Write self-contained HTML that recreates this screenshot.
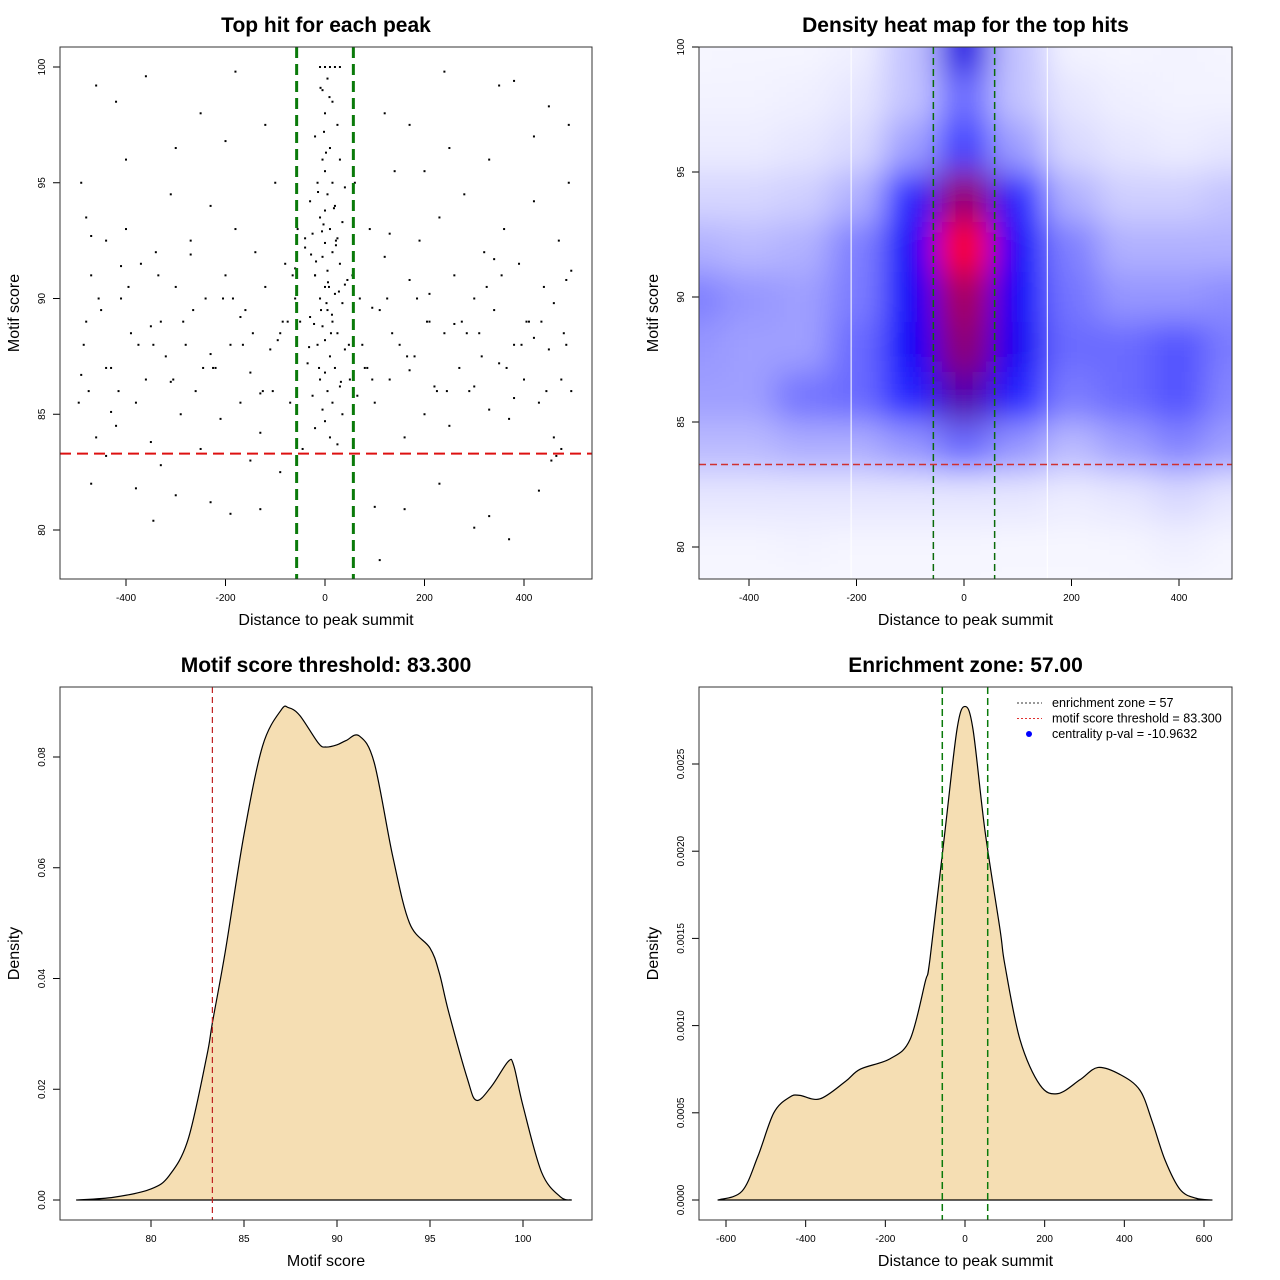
<!DOCTYPE html>
<html><head><meta charset="utf-8"><style>
html,body{margin:0;padding:0;background:#fff}
svg{display:block;font-family:"Liberation Sans",sans-serif}
</style></head><body>
<svg id="root" width="1280" height="1280" viewBox="0 0 1280 1280" xmlns="http://www.w3.org/2000/svg">
<defs>
<clipPath id="hmclip"><rect x="699" y="47" width="533" height="532"/></clipPath>
<filter id="blur" x="-20%" y="-20%" width="140%" height="140%"><feGaussianBlur stdDeviation="16"/></filter>
</defs>
</svg>
<script>
// ---- Panel 1 scatter data ----
const scatterX=[0,10,-10,20,30,5,-5,15,0,25,-20,10,-5,30,0,15,-15,40,5,-30,20,0,-10,35,10,-25,25,0,-40,15,-5,30,5,-20,45,0,20,-10,35,5,-30,15,-5,25,0,-15,40,10,-35,20,0,-10,30,5,-25,15,-5,35,0,-20,10,25,-45,50,-50,55,-55,60,-60,48,
-490,-480,-470,-485,-475,-460,-495,-450,-440,-430,-420,-410,-400,-390,-380,-370,-360,-350,-345,-340,-330,-320,-310,-300,-290,-280,-270,-260,-250,-240,-230,-220,-210,-200,-190,-180,-170,-160,-150,-140,-130,-120,-110,-100,-90,-80,-70,-460,-420,-360,-250,-180,-120,-400,-300,-200,-470,-380,-300,-230,-190,-130,-90,-440,-330,-150,
70,80,90,100,110,120,130,140,150,160,170,180,190,200,210,220,230,240,250,260,270,280,290,300,310,320,330,340,350,360,370,380,390,400,410,420,430,440,450,460,470,480,490,495,485,475,465,120,170,240,350,380,420,450,490,100,160,230,300,330,370,430,110,455,250,200,330,
-480,-440,-395,-345,-305,-265,-225,-185,-145,-105,-75,-65,-455,-415,-375,-335,-285,-245,-205,-165,-125,-85,75,95,125,165,205,245,285,325,365,405,445,485,85,135,185,225,275,315,355,395,435,475,-20,-8,8,22,-12,12,-3,3,
-18,-6,6,18,-28,28,-14,14,-2,2,-22,22,-32,32,-9,9,-490,-470,-430,-410,-350,-310,-270,-230,-170,-130,-95,-60,-40,40,65,95,130,170,210,260,300,340,380,420,460,495];
const scatterY=[100,100,100,100,100,99.5,99,98.5,98,97.5,97,96.5,96,96,95.5,95,95,94.8,94.5,94.2,94,93.8,93.5,93.3,93,92.8,92.6,92.4,92.2,92,91.8,91.5,91.2,91,90.8,90.5,90.2,90,89.8,89.5,89.2,89,88.8,88.5,88.2,88,87.8,87.5,87.2,87,86.8,86.5,86.2,86,85.8,85.5,85.2,85,84.7,84.4,84,83.7,83.5,86.5,89,91,93,95,90,88,
95,93.5,91,88,86,84,85.5,89.5,92.5,87,84.5,90,93,88.5,85.5,91.5,86.5,83.8,80.4,92,89,87.5,94.5,90.5,85,88,92.5,86,83.5,90,94,87,84.8,91,88,93,85.5,89.5,86.8,92,84.2,90.5,87.8,95,88.5,91.5,85.5,99.2,98.5,99.6,98,99.8,97.5,96,96.5,96.8,82,81.8,81.5,81.2,80.7,80.9,82.5,83.2,82.8,83,
90,87,93,85.5,89.5,91.8,86.5,95.5,88,84,90.8,87.5,92.5,85,89,86.2,93.5,88.5,84.5,91,87,94.5,86,90,88.5,92,85.2,89.5,87.2,93,84.8,88,91.5,86.5,89,94.2,85.5,90.5,87.8,84,92.5,88.5,95,86,90.8,83.5,83.2,98,97.5,99.8,99.2,99.4,97,98.3,97.5,81,80.9,82,80.1,80.6,79.6,81.7,78.7,83,96.5,95.5,96,
89,87,90.5,88,86.5,89.5,87,90,88.5,86,89,91,90,86,88,91,89,87,90,88,86,89,88,86.5,90,87.5,89,86,88.5,90.5,87,89,86,88,87,88.5,90,86,89,87.5,91,88,89,86.5,91,89.5,90.5,92.5,87,88.5,93.2,89.8,
91.6,92.9,90.7,93.9,91.9,90.3,94.6,89.3,97.2,96.3,88.9,92.3,87.9,86.4,99.1,98.7,86.7,92.7,85.1,91.4,88.8,86.4,91.9,87.6,89.2,85.9,88.2,91.3,92.6,90.6,85.8,89.6,92.8,86.9,90.2,88.9,86.2,91.7,85.7,88.3,89.8,91.2];

// ---- Panel 2 heatmap data ----
const hmX=[-600,-500,-400,-300,-200,-100,0,100,200,300,400,500,600];
const hmY=[102,100,98,96,94,92,90,88,86,84,82,80,78,76];
const hmZ=[
[.03,.03,.03,.03,.05,.15,.45,.15,.04,.03,.04,.03,.03],
[.03,.03,.04,.04,.06,.2,.6,.2,.05,.04,.05,.04,.04],
[.05,.05,.05,.06,.1,.2,.38,.2,.1,.06,.05,.05,.05],
[.08,.08,.08,.1,.14,.28,.45,.28,.14,.1,.08,.1,.1],
[.15,.15,.15,.17,.24,.5,.82,.5,.24,.17,.17,.2,.2],
[.24,.24,.22,.24,.34,.56,1.05,.56,.34,.24,.24,.24,.24],
[.34,.34,.3,.28,.35,.56,.85,.56,.36,.3,.3,.32,.32],
[.3,.3,.28,.28,.38,.56,.8,.57,.38,.38,.42,.35,.35],
[.28,.28,.28,.36,.38,.5,.7,.5,.35,.38,.42,.33,.33],
[.22,.22,.22,.25,.25,.3,.38,.3,.22,.28,.33,.28,.28],
[.1,.1,.1,.1,.1,.1,.1,.1,.08,.1,.14,.1,.1],
[.04,.04,.04,.05,.04,.04,.04,.03,.03,.04,.06,.04,.04],
[.02,.02,.02,.02,.02,.02,.02,.02,.02,.02,.02,.02,.02],
[.01,.01,.01,.01,.01,.01,.01,.01,.01,.01,.01,.01,.01]];

// ---- Panel 3 density data ----
const scoreX=[76,78,80,81,82,83,83.3,84,85,86,87,87.4,88,89,89.4,90,90.5,91.2,92,93,93.9,95,95.5,96,97,97.5,98.3,99.2,99.5,100,101,102,102.6];
const scoreD=[0,0.0005,0.002,0.0045,0.011,0.026,0.032,0.045,0.066,0.082,0.0885,0.0889,0.0875,0.0825,0.0818,0.0822,0.083,0.0838,0.079,0.062,0.05,0.0455,0.041,0.034,0.022,0.018,0.0205,0.025,0.0243,0.017,0.005,0.0006,0];

// ---- Panel 4 density data ----
const distX=[-620,-560,-520,-480,-440,-415,-364,-300,-263,-188,-138,-100,-88,-50,-20,0,20,50,88,100,138,188,233,289,334,389,439,470,502,540,580,620];
const distD=[0,0.00005,0.00025,0.0005,0.00059,0.0006,0.00058,0.00068,0.00075,0.00081,0.00092,0.00125,0.00138,0.00212,0.0027,0.00283,0.0027,0.00212,0.00155,0.00135,0.00092,0.00066,0.00061,0.00069,0.00076,0.00072,0.00063,0.00045,0.00023,0.00006,0.00001,0];

const NS="http://www.w3.org/2000/svg";
const root=document.getElementById('root');
function mk(tag,attrs,parent){const e=document.createElementNS(NS,tag);for(const k in attrs)e.setAttribute(k,attrs[k]);(parent||root).appendChild(e);return e;}
function txt(s,attrs,parent){const e=mk('text',attrs,parent);e.textContent=s;return e;}
function scale(d0,d1,r0,r1){return v=>r0+(v-d0)*(r1-r0)/(d1-d0);}
function smoothPath(pts){
  let d=`M${pts[0][0]},${pts[0][1]}`;
  for(let i=0;i<pts.length-1;i++){
    const p0=pts[Math.max(0,i-1)],p1=pts[i],p2=pts[i+1],p3=pts[Math.min(pts.length-1,i+2)];
    const c1=[p1[0]+(p2[0]-p0[0])/6,p1[1]+(p2[1]-p0[1])/6];
    const c2=[p2[0]-(p3[0]-p1[0])/6,p2[1]-(p3[1]-p1[1])/6];
    d+=` C${c1[0]},${c1[1]} ${c2[0]},${c2[1]} ${p2[0]},${p2[1]}`;
  }
  return d;
}

function frame(name,x0,y0,x1,y1,title,xt,yt,xticks,xs,yticks,ys,ylab){
  const g=mk('g',{});
  
  
  const t=txt(title,{x:(x0+x1)/2,y:y0-15,'text-anchor':'middle','font-size':21,'font-weight':'bold'},g);
  
  
  const xa=txt(xt,{x:(x0+x1)/2,y:y1+46,'text-anchor':'middle','font-size':16},g);
  
  
  const cy=(y0+y1)/2, cx=x0-41;
  const ya=txt(yt,{x:cx,y:cy,'text-anchor':'middle','font-size':16,transform:`rotate(-90 ${cx} ${cy})`},g);
  
  
  xticks.forEach(v=>{const p=xs(v);
    mk('line',{x1:p,x2:p,y1:y1,y2:y1+7,stroke:'#000'},g);
    const l=txt(String(v),{x:p,y:y1+22,'text-anchor':'middle','font-size':10},g);
    
    });
  yticks.forEach((v,i)=>{const p=ys(v);
    mk('line',{x1:x0-7,x2:x0,y1:p,y2:p,stroke:'#000'},g);
    const lx=x0-15;
    const l=txt(ylab?ylab[i]:String(v),{x:lx,y:p,'text-anchor':'middle','font-size':10,transform:`rotate(-90 ${lx} ${p})`},g);
    
    });
  return g;
}
function border(x0,y0,x1,y1){const r=mk('rect',{x:x0,y:y0,width:x1-x0,height:y1-y0,fill:'none',stroke:'#333','stroke-width':1});
  
  }

// ===== Panel 1 =====
{
const xs=scale(-400,400,126,524), ys=scale(100,80,67,530);
frame('scatter-panel',60,47,592,579,'Top hit for each peak','Distance to peak summit','Motif score',[-400,-200,0,200,400],xs,[80,85,90,95,100],ys);
const g=mk('g',{});


scatterX.forEach((x,i)=>{const c=mk('rect',{x:xs(x)-1,y:ys(scatterY[i])-1,width:2,height:2,fill:'#000'},g);
  
  });
[-57,57].forEach(v=>{const l=mk('line',{x1:xs(v),x2:xs(v),y1:47,y2:579,stroke:'#0a7a0a','stroke-width':3,'stroke-dasharray':'11,6'});
  
  });
const h=mk('line',{x1:60,x2:592,y1:ys(83.3),y2:ys(83.3),stroke:'#dd1111','stroke-width':2,'stroke-dasharray':'11,6'});


border(60,47,592,579);
}
// ===== Panel 2 =====
{
const xs=scale(-400,400,749,1179), ys=scale(100,80,47,547);
function col(v){let r,g,b;
  if(v<0.55){const t=Math.pow(v/0.55,1.5);r=250*(1-t);g=250*(1-t);b=255;}
  else{const t=Math.min(1,(v-0.55)/0.45);r=255*t;g=0;b=255*(1-t);}
  return `rgb(${r|0},${g|0},${b|0})`;}
const bg=mk('rect',{x:699,y:47,width:533,height:532,fill:'#f8f8ff'});


const cg=mk('g',{'clip-path':'url(#hmclip)'});
const g=mk('g',{filter:'url(#blur)'},cg);


const w=xs(100)-xs(0), hgt=ys(0)-ys(2);
hmY.forEach((y,j)=>hmX.forEach((x,i)=>{
  const r=mk('rect',{x:xs(x)-w/2,y:ys(y)-hgt/2,width:w+0.5,height:hgt+0.5,fill:col(hmZ[j][i])},g);
  
  }));
[-210,155].forEach(v=>{const l=mk('line',{x1:xs(v),x2:xs(v),y1:47,y2:579,stroke:'#fff','stroke-width':1});
  
  });
[-57,57].forEach(v=>{const l=mk('line',{x1:xs(v),x2:xs(v),y1:47,y2:579,stroke:'#0a6a0a','stroke-width':1.5,'stroke-dasharray':'7,4'});
  
  });
const h=mk('line',{x1:699,x2:1232,y1:ys(83.3),y2:ys(83.3),stroke:'#d03030','stroke-width':1.5,'stroke-dasharray':'7,4'});


frame('heatmap-panel',699,47,1232,579,'Density heat map for the top hits','Distance to peak summit','Motif score',[-400,-200,0,200,400],xs,[80,85,90,95,100],ys);
border(699,47,1232,579);
}
// ===== Panel 3 =====
{
const xs=scale(80,100,151,523), ys=scale(0,0.08,1200,757);
const pts=scoreX.map((x,i)=>[xs(x),ys(scoreD[i])]);
const p=mk('path',{d:smoothPath(pts)+'Z',fill:'#f5deb3',stroke:'#000','stroke-width':1.2,'stroke-linejoin':'round'});


const v=mk('line',{x1:xs(83.3),x2:xs(83.3),y1:687,y2:1220,stroke:'#c02020','stroke-width':1.2,'stroke-dasharray':'6,4'});


frame('score-density-panel',60,687,592,1220,'Motif score threshold: 83.300','Motif score','Density',[80,85,90,95,100],xs,[0,0.02,0.04,0.06,0.08],ys,['0.00','0.02','0.04','0.06','0.08']);
border(60,687,592,1220);
}
// ===== Panel 4 =====
{
const xs=scale(-600,600,726,1204), ys=scale(0,0.0025,1200,764);
const pts=distX.map((x,i)=>[xs(x),ys(distD[i])]);
const p=mk('path',{d:smoothPath(pts)+'Z',fill:'#f5deb3',stroke:'#000','stroke-width':1.2,'stroke-linejoin':'round'});


[-57,57].forEach(v=>{const l=mk('line',{x1:xs(v),x2:xs(v),y1:687,y2:1220,stroke:'#0a7a0a','stroke-width':1.5,'stroke-dasharray':'7,4'});
  
  });
frame('distance-density-panel',699,687,1232,1220,'Enrichment zone: 57.00','Distance to peak summit','Density',[-600,-400,-200,0,200,400,600],xs,[0,0.0005,0.001,0.0015,0.002,0.0025],ys,['0.0000','0.0005','0.0010','0.0015','0.0020','0.0025']);
border(699,687,1232,1220);
const lg=mk('g',{});


const items=[['enrichment zone = 57','#333','line'],['motif score threshold = 83.300','#e03030','line'],['centrality p-val = -10.9632','#0000ff','dot']];
items.forEach((it,i)=>{const y=703+i*15.5;
  const e=mk('g',{},lg);
  
  
  if(it[2]==='line')mk('line',{x1:1017,x2:1042,y1:y,y2:y,stroke:it[1],'stroke-width':1,'stroke-dasharray':'2,2'},e);
  else mk('circle',{cx:1029,cy:y,r:3,fill:it[1]},e);
  txt(it[0],{x:1052,y:y+4,'font-size':12.6},e);});
}
</script>
</body></html>
